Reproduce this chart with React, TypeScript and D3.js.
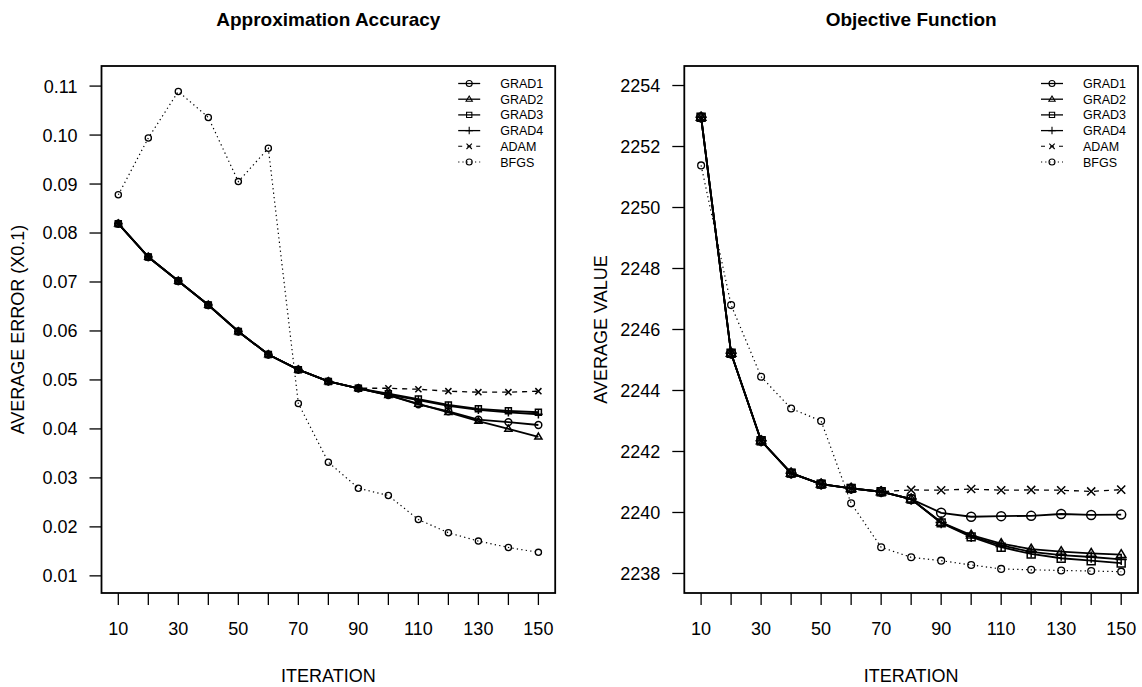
import React from "react";
import * as d3 from "d3";

// iterations on the x axis
const iterations = [10, 20, 30, 40, 50, 60, 70, 80, 90, 100, 110, 120, 130, 140, 150];
const xTickLabels = [10, 30, 50, 70, 90, 110, 130, 150];

// left panel: average error (x0.1)
const grad1Err = [0.0819, 0.0751, 0.0702, 0.0653, 0.0599, 0.0552, 0.0521, 0.0497, 0.0483, 0.0469, 0.045, 0.0436, 0.0419, 0.0414, 0.0408];
const grad2Err = [0.0819, 0.0751, 0.0702, 0.0653, 0.0599, 0.0552, 0.0521, 0.0497, 0.0483, 0.0469, 0.0451, 0.0434, 0.0416, 0.04, 0.0384];
const grad3Err = [0.0819, 0.0751, 0.0702, 0.0653, 0.0599, 0.0552, 0.0521, 0.0497, 0.0483, 0.0472, 0.0461, 0.0449, 0.0441, 0.0437, 0.0434];
const grad4Err = [0.0819, 0.0751, 0.0702, 0.0653, 0.0599, 0.0552, 0.0521, 0.0497, 0.0483, 0.047, 0.0459, 0.0447, 0.0439, 0.0434, 0.043];
const adamErr = [0.0819, 0.0751, 0.0702, 0.0653, 0.0599, 0.0552, 0.0521, 0.0497, 0.0483, 0.0483, 0.0481, 0.0477, 0.0475, 0.0475, 0.0477];
const bfgsErr = [0.0878, 0.0994, 0.1089, 0.1036, 0.0905, 0.0973, 0.0452, 0.0332, 0.0279, 0.0264, 0.0215, 0.0188, 0.0171, 0.0158, 0.0148];
const errTicks = [0.01, 0.02, 0.03, 0.04, 0.05, 0.06, 0.07, 0.08, 0.09, 0.1, 0.11];

// right panel: average objective value
const grad1Val = [2252.96, 2245.22, 2242.35, 2241.29, 2240.93, 2240.79, 2240.68, 2240.44, 2239.99, 2239.86, 2239.88, 2239.89, 2239.95, 2239.92, 2239.93];
const grad2Val = [2252.96, 2245.22, 2242.35, 2241.29, 2240.93, 2240.79, 2240.68, 2240.44, 2239.68, 2239.26, 2238.98, 2238.8, 2238.72, 2238.66, 2238.62];
const grad3Val = [2252.96, 2245.22, 2242.35, 2241.29, 2240.93, 2240.79, 2240.68, 2240.44, 2239.66, 2239.2, 2238.86, 2238.64, 2238.5, 2238.42, 2238.34];
const grad4Val = [2252.96, 2245.22, 2242.35, 2241.29, 2240.93, 2240.79, 2240.68, 2240.44, 2239.67, 2239.22, 2238.92, 2238.71, 2238.6, 2238.54, 2238.46];
const adamVal = [2252.96, 2245.22, 2242.35, 2241.29, 2240.93, 2240.79, 2240.68, 2240.74, 2240.73, 2240.77, 2240.73, 2240.74, 2240.73, 2240.69, 2240.75];
const bfgsVal = [2251.38, 2246.8, 2244.45, 2243.41, 2243.0, 2240.3, 2238.86, 2238.53, 2238.42, 2238.28, 2238.15, 2238.12, 2238.1, 2238.08, 2238.06];
const valTicks = [2238, 2240, 2242, 2244, 2246, 2248, 2250, 2252, 2254];

const seriesNames = ["GRAD1", "GRAD2", "GRAD3", "GRAD4", "ADAM", "BFGS"];

const FONT = "'Liberation Sans', Arial, Helvetica, sans-serif";

type Style = { shape: string; dash: string | undefined; lw: number; small: boolean };
const styles: Style[] = [
  { shape: "circle", dash: undefined, lw: 1.8, small: false },
  { shape: "triangle", dash: undefined, lw: 1.8, small: false },
  { shape: "square", dash: undefined, lw: 1.8, small: false },
  { shape: "plus", dash: undefined, lw: 1.8, small: false },
  { shape: "x", dash: "5,5", lw: 1.3, small: false },
  { shape: "circle", dash: "1.3,3.2", lw: 1.2, small: true },
];

const markerPath = (shape: string, r: number) => {
  if (shape === "triangle") {
    const h = r * 1.75;
    return `M0,${-h * 0.62}L${r * 1.05},${h * 0.38}L${-r * 1.05},${h * 0.38}Z`;
  }
  if (shape === "square") {
    const s = r * 0.88;
    return `M${-s},${-s}H${s}V${s}H${-s}Z`;
  }
  if (shape === "plus") {
    const s = r * 1.25;
    return `M${-s},0H${s}M0,${-s}V${s}`;
  }
  if (shape === "x") {
    const s = r * 0.9;
    return `M${-s},${-s}L${s},${s}M${s},${-s}L${-s},${s}`;
  }
  return d3.symbol(d3.symbolCircle, Math.PI * r * r)() as string;
};

const Marker = ({ shape, x, y, r, sw }: { shape: string; x: number; y: number; r: number; sw: number }) =>
  shape === "circle" ? (
    <circle cx={x} cy={y} r={r} fill="none" stroke="#000" strokeWidth={sw} />
  ) : (
    <path d={markerPath(shape, r)} transform={`translate(${x},${y})`} fill="none" stroke="#000" strokeWidth={sw} />
  );

type PanelProps = {
  title: string;
  yTitle: string;
  series: number[][];
  yDomain: [number, number];
  yTicks: number[];
  fmt: (v: number) => string;
  left: number;
  markR: number;
  smallR: number;
  yTitleX: number;
};

const TOP = 66;
const BOTTOM = 593;
const WIDTH = 453.7;

const Panel = ({ title, yTitle, series, yDomain, yTicks, fmt, left, markR, smallR, yTitleX }: PanelProps) => {
  const right = left + WIDTH;
  const x = d3.scaleLinear().domain([4.4, 155.6]).range([left, right]);
  const y = d3.scaleLinear().domain(yDomain).range([BOTTOM, TOP]);
  const line = d3
    .line<number>()
    .x((_, i) => x(iterations[i]))
    .y((d) => y(d));
  const cx = (left + right) / 2;
  const cy = (TOP + BOTTOM) / 2;

  return (
    <g fontFamily={FONT}>
      <text x={cx} y={26} textAnchor="middle" fontSize={19} fontWeight="bold">
        {title}
      </text>
      <rect x={left} y={TOP} width={WIDTH} height={BOTTOM - TOP} fill="none" stroke="#000" strokeWidth={1.8} />

      {/* x axis */}
      {iterations.map((t) => (
        <line key={t} x1={x(t)} x2={x(t)} y1={BOTTOM} y2={BOTTOM + 12} stroke="#000" strokeWidth={1.3} />
      ))}
      {xTickLabels.map((t) => (
        <text key={t} x={x(t)} y={635} textAnchor="middle" fontSize={18}>
          {t}
        </text>
      ))}
      <text x={cx} y={682} textAnchor="middle" fontSize={18}>
        ITERATION
      </text>

      {/* y axis */}
      {yTicks.map((t) => (
        <g key={t}>
          <line x1={left - 12} x2={left} y1={y(t)} y2={y(t)} stroke="#000" strokeWidth={1.3} />
          <text x={left - 24} y={y(t)} dy="0.36em" textAnchor="end" fontSize={18}>
            {fmt(t)}
          </text>
        </g>
      ))}
      <text
        transform={`translate(${yTitleX},${cy}) rotate(-90)`}
        textAnchor="middle"
        fontSize={18}
      >
        {yTitle}
      </text>

      {/* series */}
      {series.map((vals, si) => {
        const st = styles[si];
        const r = st.small ? smallR : markR;
        return (
          <g key={si}>
            <path d={line(vals) as string} fill="none" stroke="#000" strokeWidth={st.lw} strokeDasharray={st.dash} />
            {vals.map((v, i) => (
              <Marker key={i} shape={st.shape} x={x(iterations[i])} y={y(v)} r={r} sw={st.small ? 1.3 : 1.5} />
            ))}
          </g>
        );
      })}

      {/* legend */}
      {seriesNames.map((name, i) => {
        const st = styles[i];
        const ly = 83.5 + i * 15.7;
        const mx = right - 86;
        return (
          <g key={name}>
            <line
              x1={mx - 11}
              x2={mx + 11}
              y1={ly}
              y2={ly}
              stroke="#000"
              strokeWidth={st.dash ? 1.1 : 1.3}
              strokeDasharray={st.dash === "5,5" ? "4,5" : st.dash ? "1.2,3" : undefined}
            />
            <Marker shape={st.shape} x={mx} y={ly} r={3} sw={1.1} />
            <text x={right - 55} y={ly} dy="0.36em" fontSize={12.5}>
              {name}
            </text>
          </g>
        );
      })}
    </g>
  );
};

export default function App() {
  return (
    <svg
      width={1142}
      height={687}
      style={{ position: "absolute", left: 0, top: 0, background: "#fff" }}
    >
      <rect width={1142} height={687} fill="#fff" />
      <Panel
        title="Approximation Accuracy"
        yTitle="AVERAGE ERROR (X0.1)"
        series={[grad1Err, grad2Err, grad3Err, grad4Err, adamErr, bfgsErr]}
        yDomain={[0.0065, 0.1141]}
        yTicks={errTicks}
        fmt={d3.format(".2f")}
        left={101.5}
        markR={3.4}
        smallR={3.1}
        yTitleX={24}
      />
      <Panel
        title="Objective Function"
        yTitle="AVERAGE VALUE"
        series={[grad1Val, grad2Val, grad3Val, grad4Val, adamVal, bfgsVal]}
        yDomain={[2237.36, 2254.64]}
        yTicks={valTicks}
        fmt={d3.format("d")}
        left={684.3}
        markR={4.5}
        smallR={3.4}
        yTitleX={607}
      />
    </svg>
  );
}
